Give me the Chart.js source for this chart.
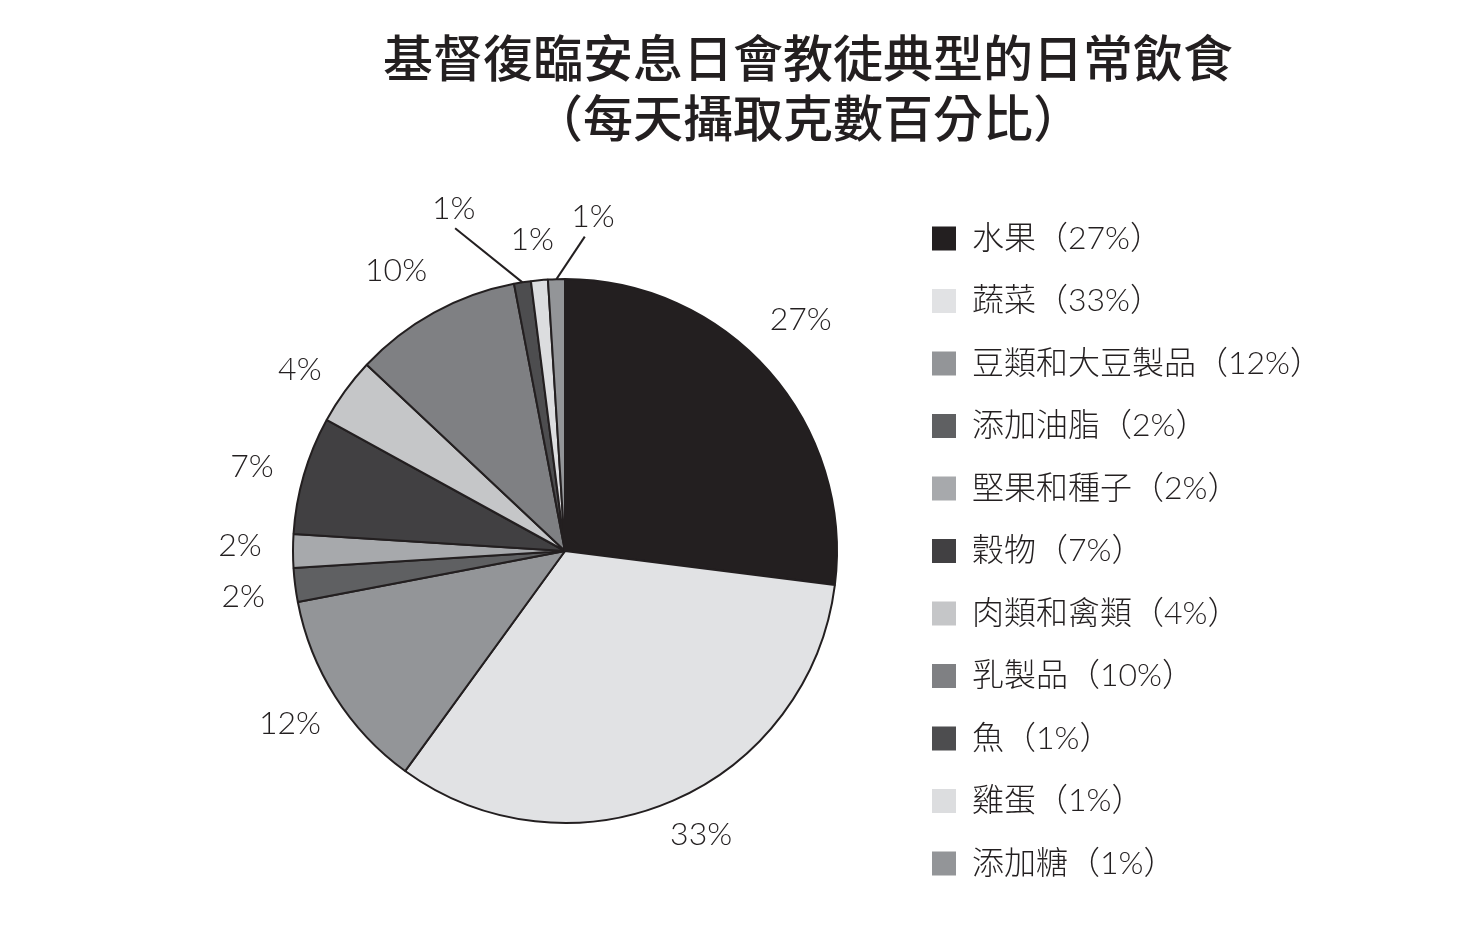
<!DOCTYPE html>
<html>
<head>
<meta charset="utf-8">
<script src="https://cdn.jsdelivr.net/npm/chart.js@4"></script>
<style>
  html, body { margin: 0; padding: 0; background: #fff; }
  #wrap { position: relative; width: 1465px; height: 931px; }
  #title {
    position: absolute; left: 0; top: 25px; width: 1616px;
    text-align: center; color: #231f20;
    font-family: "Noto Sans CJK TC", sans-serif; font-weight: 500;
    font-size: 50px; line-height: 60px;
  }
  canvas { position: absolute; left: 0; top: 0; }
</style>
</head>
<body>
<div id="wrap">
  <div id="title">基督復臨安息日會教徒典型的日常飲食<br>（每天攝取克數百分比）</div>
  <canvas id="dietChart" width="1465" height="931"></canvas>
</div>
<script>
const categories = ['水果', '蔬菜', '豆類和大豆製品', '添加油脂', '堅果和種子', '穀物', '肉類和禽類', '乳製品', '魚', '雞蛋', '添加糖'];
const percents = [27, 33, 12, 2, 2, 7, 4, 10, 1, 1, 1];
const sliceColors = ['#231f20', '#e1e2e4', '#939598', '#5f6062', '#a7a9ac', '#414042', '#c5c6c8', '#7f8083', '#4d4d4f', '#dcdddf', '#939598'];

const labelFont = '300 32px Lato, "Noto Sans CJK TC", sans-serif';
const inkColor = '#231f20';

// label placement per slice: angle offset from slice middle (deg), distance from centre,
// and optional leader line end (angle offset, distance)
const labelTweaks = [
    {da: -3.0, r: 330},
    {da: -2.2, r: 315},
    {da: 0.2, r: 325},
    {da: -0.9, r: 325},
    {da: 0.9, r: 325},
    {da: -1.2, r: 324},
    {da: -1.7, r: 321},
    {da: -2.3, r: 327},
    {da: -9, r: 360, leader: {da: -9.8, r: 341}},
    {da: -0.6, r: 313},
    {da: 6.6, r: 335, leader: {da: 5.4, r: 315}}
];

const pctLabels = {
    id: 'pctLabels',
    afterDatasetsDraw(chart) {
        const ctx = chart.ctx;
        const meta = chart.getDatasetMeta(0);
        ctx.save();
        ctx.font = labelFont;
        ctx.fillStyle = inkColor;
        ctx.strokeStyle = inkColor;
        ctx.lineWidth = 2;
        ctx.textAlign = 'center';
        ctx.textBaseline = 'middle';
        meta.data.forEach((arc, i) => {
            const p = arc.getProps(['x', 'y', 'startAngle', 'endAngle', 'outerRadius'], true);
            const mid = (p.startAngle + p.endAngle) / 2;
            const t = labelTweaks[i];
            const a = mid + t.da * Math.PI / 180;
            if (t.leader) {
                const ea = mid + t.leader.da * Math.PI / 180;
                ctx.beginPath();
                ctx.moveTo(p.x + Math.cos(mid) * p.outerRadius, p.y + Math.sin(mid) * p.outerRadius);
                ctx.lineTo(p.x + Math.cos(ea) * t.leader.r, p.y + Math.sin(ea) * t.leader.r);
                ctx.stroke();
            }
            ctx.fillText(percents[i] + '%', p.x + Math.cos(a) * t.r, p.y + Math.sin(a) * t.r);
        });
        ctx.restore();
    }
};

// fixed legend width so the pie and legend land where the original has them
const legendWidth = {
    id: 'legendWidth',
    beforeLayout(chart) {
        const lg = chart.legend;
        if (lg && !lg._patched) {
            const fit = lg.fit;
            lg.fit = function () {
                fit.call(this);
                this.width = 563.5;
            };
            lg._patched = true;
        }
    }
};

const ctx = document.getElementById('dietChart').getContext('2d');
new Chart(ctx, {
    type: 'pie',
    data: {
        labels: categories,
        datasets: [{
            data: percents,
            backgroundColor: sliceColors,
            borderColor: inkColor,
            borderWidth: 2,
            radius: 272
        }]
    },
    options: {
        responsive: false,
        animation: false,
        layout: {padding: {top: 171, bottom: 0, left: 228.5, right: 0}},
        plugins: {
            tooltip: {enabled: false},
            legend: {
                position: 'right',
                align: 'center',
                labels: {
                    boxWidth: 24,
                    boxHeight: 24,
                    padding: 30.5,
                    color: inkColor,
                    font: {family: 'Lato, "Noto Sans CJK TC", sans-serif', size: 32, weight: 300},
                    generateLabels(chart) {
                        return categories.map((c, i) => ({
                            text: c + '（' + percents[i] + '%）',
                            fillStyle: sliceColors[i],
                            strokeStyle: sliceColors[i],
                            lineWidth: 0,
                            fontColor: inkColor,
                            hidden: false,
                            index: i
                        }));
                    }
                }
            }
        }
    },
    plugins: [pctLabels, legendWidth]
});
</script>
</body>
</html>
